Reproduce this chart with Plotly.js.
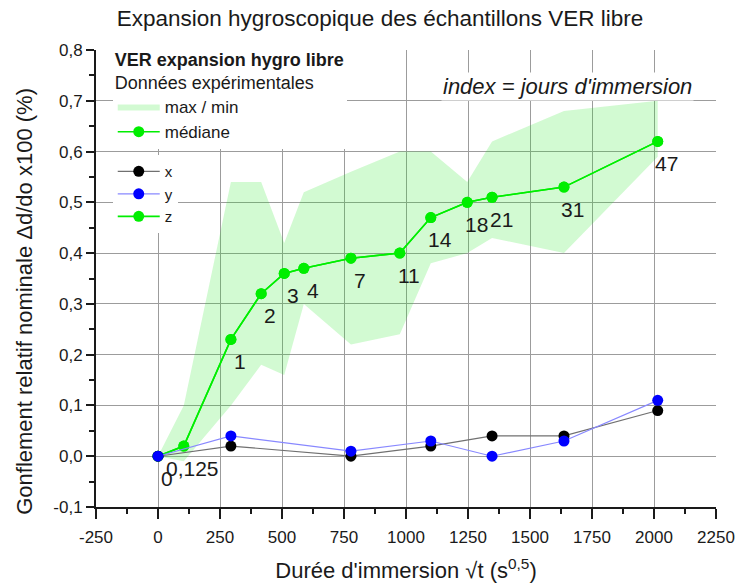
<!DOCTYPE html>
<html>
<head>
<meta charset="utf-8">
<script src="https://cdn.plot.ly/plotly-3.0.1.min.js"></script>
<style>html,body{margin:0;padding:0;background:#fff;}#chart{width:737px;height:584px;}</style>
</head>
<body>
<div id="chart"></div>
<script>
// Immersion days (point labels) and sqrt(t) positions
const dayLabels = ['0', '0,125', '1', '2', '3', '4', '7', '11', '14', '18', '21', '31', '47'];
const zX = [0, 104, 294, 416, 509, 588, 778, 975, 1100, 1247, 1347, 1637, 2015];
const zMedian = [0, 0.02, 0.23, 0.32, 0.36, 0.37, 0.39, 0.40, 0.47, 0.50, 0.51, 0.53, 0.62];
const zMax = [0, 0.10, 0.54, 0.54, 0.42, 0.52, 0.56, 0.60, 0.60, 0.54, 0.62, 0.68, 0.70];
const zMin = [0, -0.01, 0.10, 0.18, 0.16, 0.30, 0.22, 0.24, 0.38, 0.40, 0.43, 0.40, 0.59];

const xyX = [0, 294, 778, 1100, 1347, 1637, 2015];
const xVals = [0, 0.02, 0, 0.02, 0.04, 0.04, 0.09];
const yVals = [0, 0.04, 0.01, 0.03, 0, 0.03, 0.11];

const xTickVals = [-250, 0, 250, 500, 750, 1000, 1250, 1500, 1750, 2000, 2250];
const xTickText = ['-250', '0', '250', '500', '750', '1000', '1250', '1500', '1750', '2000', '2250'];
const yTickVals = [-0.1, 0, 0.1, 0.2, 0.3, 0.4, 0.5, 0.6, 0.7, 0.8];
const yTickText = ['-0,1', '0,0', '0,1', '0,2', '0,3', '0,4', '0,5', '0,6', '0,7', '0,8'];

const FONT = 'Liberation Sans, Arial, sans-serif';
const GREEN = '#00ee00';
const INK = '#1a1a1a';

const envX = zX.concat(zX.slice().reverse());
const envY = zMax.concat(zMin.slice().reverse());

const traces = [
  {x: envX, y: envY, type: 'scatter', mode: 'lines', fill: 'toself',
   fillcolor: 'rgba(30,230,30,0.2)', line: {width: 0, color: 'rgba(0,0,0,0)'},
   name: 'max / min', legend: 'legend', legendrank: 1, hoverinfo: 'skip'},
  {x: zX, y: zMedian, type: 'scatter', mode: 'lines+markers', name: 'médiane',
   line: {color: GREEN, width: 1.6}, marker: {color: GREEN, size: 11},
   legend: 'legend', legendrank: 2},
  {x: zX, y: zMedian, type: 'scatter', mode: 'lines+markers', name: 'z',
   line: {color: GREEN, width: 1.6}, marker: {color: GREEN, size: 11},
   legend: 'legend2', legendrank: 3},
  {x: xyX, y: xVals, type: 'scatter', mode: 'lines+markers', name: 'x',
   line: {color: '#707070', width: 1.2}, marker: {color: '#000000', size: 11},
   legend: 'legend2', legendrank: 1},
  {x: xyX, y: yVals, type: 'scatter', mode: 'lines+markers', name: 'y',
   line: {color: '#8888ff', width: 1.2}, marker: {color: '#0000ff', size: 11},
   legend: 'legend2', legendrank: 2}
];

const annotations = dayLabels.map((t, i) => ({
  x: zX[i], y: zMedian[i], xref: 'x', yref: 'y', text: t, showarrow: false,
  xshift: 9, yshift: -22, font: {family: FONT, size: 21, color: INK}
}));
annotations.push({
  x: 0.76, y: 0.921, xref: 'paper', yref: 'paper', text: '<i>index = jours d\'immersion</i>',
  showarrow: false, xanchor: 'center', yanchor: 'middle', bgcolor: '#ffffff',
  font: {family: FONT, size: 22, color: INK}
});
annotations.push({
  x: -0.1145, y: 0.449, xref: 'paper', yref: 'paper', textangle: -90,
  text: 'Gonflement relatif nominale Δd/do x100 (%)', showarrow: false,
  xanchor: 'center', yanchor: 'middle', font: {family: FONT, size: 22, color: INK}
});

const layout = {
  width: 737, height: 584,
  margin: {l: 96, r: 21, t: 50, b: 77},
  paper_bgcolor: '#ffffff', plot_bgcolor: '#ffffff',
  font: {family: FONT, color: INK},
  title: {text: 'Expansion hygroscopique des échantillons VER libre',
          x: 0.5156, xref: 'container', xanchor: 'center',
          y: 0.969, yref: 'container', yanchor: 'middle',
          font: {family: FONT, size: 22.5, color: INK}},
  xaxis: {range: [-250, 2250], tickvals: xTickVals, ticktext: xTickText,
          showgrid: true, gridcolor: '#9c9c9c', gridwidth: 1, zeroline: false,
          showline: true, linecolor: INK, linewidth: 2,
          ticks: 'outside', ticklen: 10, tickwidth: 2, tickcolor: INK,
          ticklabelstandoff: 4,
          minor: {dtick: 125, tick0: 0, ticks: 'outside', ticklen: 5, tickwidth: 2, tickcolor: INK, showgrid: false},
          tickfont: {family: FONT, size: 17, color: INK},
          title: {text: 'Durée d\'immersion √t (s<sup>0,5</sup>)', standoff: 16,
                  font: {family: FONT, size: 22, color: INK}}},
  yaxis: {range: [-0.1, 0.8], tickvals: yTickVals, ticktext: yTickText,
          showgrid: true, gridcolor: '#9c9c9c', gridwidth: 1, zeroline: false,
          showline: true, linecolor: INK, linewidth: 2,
          ticks: 'outside', ticklen: 8, tickwidth: 2, tickcolor: INK,
          ticklabelstandoff: 0,
          minor: {dtick: 0.05, tick0: 0, ticks: 'outside', ticklen: 5, tickwidth: 2, tickcolor: INK, showgrid: false},
          tickfont: {family: FONT, size: 17, color: INK}},
  legend: {x: 0.027, y: 1.017, xanchor: 'left', yanchor: 'top', itemwidth: 42,
           bgcolor: '#ffffff', borderwidth: 0, tracegroupgap: 0,
           font: {family: FONT, size: 17, color: INK},
           title: {text: '<b>VER expansion hygro libre</b><br>Données expérimentales',
                   side: 'top', font: {family: FONT, size: 18, color: INK}}},
  legend2: {x: 0.027, y: 0.77, xanchor: 'left', yanchor: 'top', itemwidth: 42,
            bgcolor: '#ffffff', borderwidth: 0, tracegroupgap: 0,
            font: {family: FONT, size: 15, color: INK}},
  annotations: annotations,
  showlegend: true
};

Plotly.newPlot('chart', traces, layout, {displayModeBar: false, staticPlot: true});
</script>
</body>
</html>
